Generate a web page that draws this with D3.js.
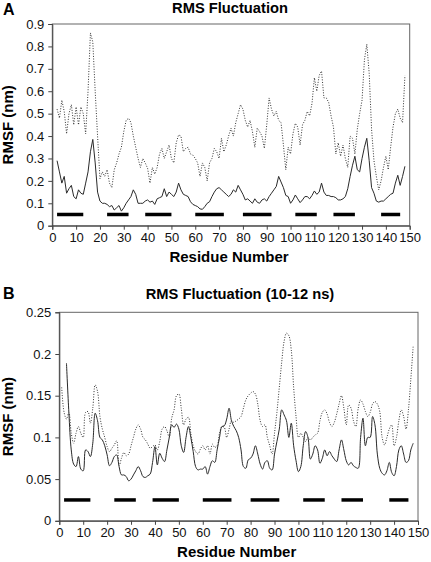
<!DOCTYPE html>
<html><head><meta charset="utf-8">
<script src="https://cdn.jsdelivr.net/npm/d3@7"></script>
<style>
html,body{margin:0;padding:0;background:#fff;}
svg{display:block;font-family:Arial,"Liberation Sans",sans-serif;}
</style></head>
<body>
<script>
// ---------- DATA ----------
const xTicks = [0,10,20,30,40,50,60,70,80,90,100,110,120,130,140,150];
const yTicksA = [0,0.1,0.2,0.3,0.4,0.5,0.6,0.7,0.8,0.9];
const yTicksB = [0,0.05,0.1,0.15,0.2,0.25];
const yTickLabelsB = ["0","0.05","0.1","0.15","0.2","0.25"];

// secondary-structure strands [start, end]
const strands = [[2,13],[23,32],[39,50],[60,72],[80,92],[102,111],[118,127],[138,146]];
const strandLevelA = 0.05;
const strandLevelB = 0.025;

// Panel A: residues 2..148
const startA = 2;
const solidA = [0.29,0.24,0.19,0.22,0.145,0.165,0.18,0.13,0.12,0.16,0.145,0.14,0.19,0.24,0.33,0.385,0.28,0.15,0.11,
0.1,0.1,0.095,0.085,0.09,0.07,0.08,0.09,0.065,0.08,0.1,0.115,0.13,0.16,0.14,0.1,0.1,0.1,0.11,0.115,
0.105,0.11,0.095,0.12,0.125,0.13,0.165,0.13,0.15,0.14,0.13,0.15,0.19,0.16,0.14,0.135,0.13,0.107,0.095,0.09,
0.085,0.075,0.073,0.085,0.1,0.107,0.13,0.15,0.165,0.17,0.16,0.15,0.14,0.13,0.14,0.16,0.15,0.18,0.16,0.14,
0.115,0.12,0.11,0.1,0.12,0.105,0.1,0.115,0.12,0.11,0.13,0.145,0.16,0.175,0.22,0.195,0.17,0.135,0.13,0.1,
0.115,0.137,0.12,0.103,0.115,0.13,0.13,0.12,0.135,0.155,0.14,0.15,0.19,0.15,0.135,0.135,0.13,0.13,0.125,0.115,
0.115,0.12,0.13,0.165,0.22,0.27,0.31,0.25,0.24,0.3,0.35,0.39,0.29,0.17,0.145,0.11,0.105,0.11,0.11,0.12,
0.13,0.14,0.145,0.19,0.225,0.18,0.22,0.265];
const dottedA = [0.52,0.48,0.56,0.51,0.41,0.5,0.54,0.45,0.53,0.45,0.53,0.5,0.41,0.6,0.86,0.82,0.6,0.4,0.21,
0.24,0.22,0.25,0.19,0.17,0.25,0.28,0.32,0.35,0.42,0.47,0.48,0.46,0.4,0.35,0.3,0.26,0.3,0.28,0.256,
0.19,0.26,0.23,0.26,0.32,0.345,0.3,0.33,0.36,0.3,0.28,0.37,0.405,0.4,0.33,0.345,0.35,0.32,0.315,0.3,
0.28,0.22,0.28,0.26,0.2,0.28,0.3,0.345,0.33,0.3,0.39,0.33,0.36,0.4,0.435,0.4,0.46,0.5,0.54,0.52,
0.47,0.44,0.47,0.42,0.35,0.435,0.42,0.4,0.345,0.45,0.57,0.52,0.49,0.51,0.47,0.46,0.36,0.25,0.35,0.32,
0.41,0.457,0.44,0.36,0.45,0.47,0.51,0.49,0.546,0.66,0.6,0.67,0.69,0.57,0.57,0.55,0.49,0.44,0.32,0.37,
0.31,0.36,0.3,0.26,0.4,0.39,0.32,0.43,0.5,0.56,0.74,0.81,0.68,0.43,0.29,0.22,0.16,0.2,0.26,0.31,
0.25,0.35,0.44,0.5,0.52,0.48,0.46,0.67];

// Panel B (10-12 ns)
const startSolidB = 3;
const solidB = [0.189,0.13,0.085,0.068,0.065,0.077,0.062,0.06,0.085,0.083,0.077,0.093,0.129,0.12,0.1,0.097,0.09,0.079,
0.066,0.07,0.077,0.079,0.065,0.055,0.055,0.053,0.048,0.05,0.055,0.06,0.065,0.06,0.053,0.052,0.054,0.056,0.07,0.089,
0.067,0.081,0.075,0.071,0.085,0.1,0.115,0.112,0.116,0.11,0.09,0.082,0.1,0.113,0.1,0.083,0.065,0.061,0.062,0.062,
0.065,0.056,0.065,0.072,0.07,0.085,0.1,0.113,0.114,0.122,0.135,0.12,0.113,0.108,0.1,0.085,0.065,0.063,0.073,0.075,
0.08,0.09,0.08,0.068,0.062,0.07,0.072,0.063,0.061,0.08,0.095,0.11,0.133,0.127,0.12,0.1,0.117,0.09,0.072,0.059,
0.065,0.09,0.107,0.1,0.074,0.08,0.09,0.085,0.069,0.075,0.085,0.078,0.083,0.078,0.074,0.071,0.085,0.097,0.085,0.072,
0.067,0.07,0.066,0.064,0.063,0.1,0.123,0.09,0.1,0.1,0.125,0.115,0.08,0.063,0.057,0.055,0.06,0.07,0.058,0.054,
0.065,0.085,0.09,0.08,0.07,0.072,0.085,0.093];
const startDottedB = 1;
const dottedB = [0.16,0.13,0.122,0.13,0.105,0.093,0.105,0.113,0.105,0.1,0.13,0.131,0.117,0.135,0.163,0.155,0.125,0.11,0.1,
0.089,0.083,0.087,0.091,0.096,0.066,0.075,0.082,0.078,0.08,0.09,0.1,0.11,0.115,0.11,0.1,0.097,0.092,0.087,0.089,
0.091,0.085,0.095,0.11,0.113,0.108,0.1,0.123,0.133,0.15,0.152,0.135,0.115,0.122,0.124,0.105,0.09,0.083,0.08,0.086,
0.09,0.085,0.09,0.08,0.092,0.088,0.09,0.105,0.113,0.112,0.1,0.11,0.12,0.118,0.12,0.122,0.125,0.135,0.145,0.15,
0.153,0.155,0.152,0.14,0.12,0.113,0.115,0.1,0.09,0.08,0.105,0.13,0.16,0.19,0.215,0.225,0.222,0.205,0.16,0.125,
0.1,0.105,0.1,0.095,0.1,0.097,0.1,0.103,0.105,0.12,0.13,0.133,0.128,0.118,0.113,0.118,0.128,0.14,0.15,0.135,
0.115,0.139,0.135,0.12,0.113,0.135,0.145,0.14,0.131,0.125,0.13,0.14,0.143,0.14,0.131,0.1,0.091,0.1,0.11,0.115,
0.09,0.1,0.12,0.133,0.125,0.11,0.133,0.17,0.21];

// ---------- DRAW ----------
const W = 431, H = 562;
const svg = d3.select("body").append("svg").attr("width", W).attr("height", H);

function panel(cfg){
  const g = svg.append("g");
  const x = d3.scaleLinear().domain([0,150]).range([cfg.left, cfg.right]);
  const y = d3.scaleLinear().domain([0,cfg.ymax]).range([cfg.bottom, cfg.top]);

  // frame
  g.append("rect").attr("x", cfg.left).attr("y", cfg.top)
    .attr("width", cfg.right-cfg.left).attr("height", cfg.bottom-cfg.top)
    .attr("fill","none").attr("stroke","#666").attr("stroke-width",1);

  // axes
  const ya = d3.axisLeft(y).tickValues(cfg.yTicks).tickSize(4).tickPadding(4)
    .tickFormat((d,i)=>cfg.yLabels ? cfg.yLabels[i] : d3.format("~g")(d));
  const xa = d3.axisBottom(x).tickValues(xTicks).tickSize(4).tickPadding(3).tickFormat(d3.format("d"));
  const gy = g.append("g").attr("transform",`translate(${cfg.left},0)`).call(ya);
  const gx = g.append("g").attr("transform",`translate(0,${cfg.bottom})`).call(xa);
  [gx,gy].forEach(a=>{
    a.select(".domain").attr("stroke","#444");
    a.selectAll(".tick line").attr("stroke","#444");
    a.selectAll(".tick text").attr("fill","#111").style("font-size","13px")
      .style("font-family","Arial, 'Liberation Sans', sans-serif");
  });

  // strands
  g.selectAll(".strand").data(strands).enter().append("line")
    .attr("x1", d=>x(d[0])).attr("x2", d=>x(d[1]))
    .attr("y1", y(cfg.strandLevel)).attr("y2", y(cfg.strandLevel))
    .attr("stroke","#000").attr("stroke-width",3.5);

  const line = d3.line().x(d=>x(d[0])).y(d=>y(d[1])).curve(cfg.curve);
  const dd = cfg.dotted.map((v,i)=>[cfg.dottedStart+i, v]);
  const sd = cfg.solid.map((v,i)=>[cfg.solidStart+i, v]);
  g.append("path").datum(dd).attr("d", line).attr("fill","none")
    .attr("stroke","#333").attr("stroke-width",1).attr("stroke-dasharray","1,1.6");
  g.append("path").datum(sd).attr("d", line).attr("fill","none")
    .attr("stroke","#2a2a2a").attr("stroke-width",1);

  // titles
  svg.append("text").attr("x",3).attr("y",cfg.letterY).text(cfg.letter)
    .style("font-weight","bold").style("font-size","16px");
  svg.append("text").attr("x",cfg.titleX).attr("y",cfg.titleY).attr("text-anchor","middle")
    .text(cfg.title).style("font-weight","bold").style("font-size","14.7px");
  svg.append("text").attr("x",(cfg.left+cfg.right)/2 - 2).attr("y",cfg.bottom+36)
    .attr("text-anchor","middle").text("Residue Number")
    .style("font-weight","bold").style("font-size","15px");
  svg.append("text").attr("transform",`translate(13,${(cfg.top+cfg.bottom)/2}) rotate(-90)`)
    .attr("text-anchor","middle").text("RMSF (nm)")
    .style("font-weight","bold").style("font-size","15px");
}

panel({left:52.3, right:409.7, top:24, bottom:225.7, ymax:0.9, yTicks:yTicksA,
  strandLevel:strandLevelA, solid:solidA, solidStart:startA, dotted:dottedA, dottedStart:startA,
  curve:d3.curveLinear,
  letter:"A", letterY:15, title:"RMS Fluctuation", titleX:230, titleY:13});
panel({left:59.3, right:418, top:312.3, bottom:520.8, ymax:0.25, yTicks:yTicksB, yLabels:yTickLabelsB,
  strandLevel:strandLevelB, solid:solidB, solidStart:startSolidB, dotted:dottedB, dottedStart:startDottedB,
  curve:d3.curveCatmullRom.alpha(0.5),
  letter:"B", letterY:299, title:"RMS Fluctuation (10-12 ns)", titleX:240, titleY:299});
</script>
</body></html>
